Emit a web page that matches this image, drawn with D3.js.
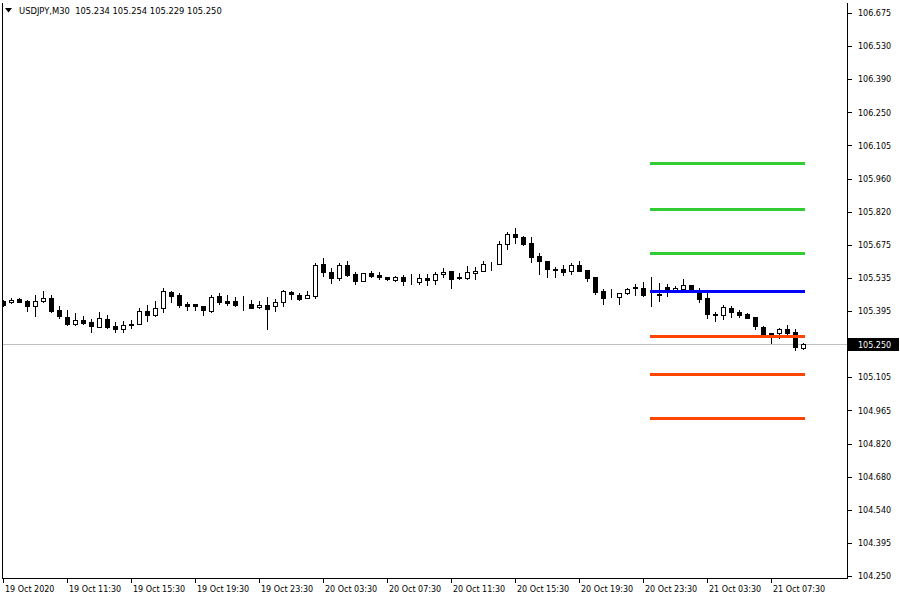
<!DOCTYPE html>
<html><head><meta charset="utf-8">
<script src="https://cdn.jsdelivr.net/npm/d3@7"></script>
<style>
body{margin:0;background:#fff}
svg{display:block}
text{font-family:"DejaVu Sans",sans-serif;font-size:8px;fill:#000}
</style></head><body>
<svg id="c" width="900" height="600"></svg>
<script>
const symbol = "USDJPY,M30";
const openP  = [105.434,105.431,105.443,105.434,105.412,105.433,105.447,105.396,105.367,105.337,
                105.353,105.343,105.324,105.357,105.327,105.315,105.337,105.337,105.391,105.375,
                105.403,105.474,105.459,105.420,105.420,105.412,105.390,105.455,105.434,105.433,
                105.421,105.420,105.409,105.417,105.412,105.429,105.473,105.462,105.446,105.457,
                105.593,105.558,105.532,105.588,105.549,105.520,105.554,105.546,105.537,105.525,
                105.538,105.524,105.518,105.535,105.525,105.549,105.564,105.538,105.535,105.554,
                105.562,105.593,105.593,105.679,105.722,105.709,105.683,105.627,105.606,105.574,
                105.574,105.564,105.588,105.568,105.539,105.477,105.453,105.450,105.469,105.496,
                105.492,105.466,105.465,105.493,105.483,105.485,105.502,105.477,105.447,105.377,
                105.373,105.403,105.387,105.378,105.364,105.324,105.298,105.295,105.312,105.300,
                105.234];
const highP  = [105.439,105.447,105.447,105.437,105.460,105.477,105.460,105.413,105.396,105.383,
                105.371,105.357,105.387,105.374,105.344,105.349,105.352,105.404,105.417,105.434,
                105.490,105.477,105.470,105.430,105.420,105.413,105.462,105.469,105.460,105.450,
                105.457,105.439,105.436,105.452,105.442,105.481,105.479,105.469,105.477,105.598,
                105.620,105.575,105.597,105.607,105.559,105.556,105.565,105.559,105.538,105.543,
                105.548,105.549,105.549,105.549,105.561,105.575,105.564,105.556,105.584,105.581,
                105.607,105.601,105.693,105.733,105.748,105.715,105.709,105.641,105.606,105.581,
                105.588,105.598,105.606,105.568,105.539,105.487,105.485,105.468,105.492,105.509,
                105.516,105.538,105.511,105.506,105.499,105.529,105.505,105.492,105.469,105.386,
                105.417,105.414,105.394,105.384,105.364,105.327,105.298,105.317,105.332,105.312,
                105.254];
const lowP   = [105.413,105.426,105.429,105.393,105.371,105.430,105.387,105.362,105.331,105.331,
                105.335,105.302,105.322,105.319,105.301,105.301,105.318,105.335,105.349,105.370,
                105.387,105.431,105.409,105.397,105.397,105.375,105.389,105.423,105.417,105.413,
                105.394,105.404,105.405,105.315,105.393,105.412,105.444,105.439,105.446,105.447,
                105.543,105.513,105.524,105.542,105.509,105.520,105.538,105.529,105.524,105.521,
                105.505,105.508,105.506,105.503,105.509,105.539,105.489,105.528,105.530,105.530,
                105.562,105.569,105.593,105.657,105.683,105.676,105.604,105.549,105.537,105.537,
                105.546,105.551,105.564,105.522,105.465,105.423,105.452,105.420,105.463,105.459,
                105.457,105.413,105.436,105.457,105.481,105.481,105.479,105.431,105.362,105.349,
                105.358,105.367,105.365,105.360,105.312,105.284,105.255,105.274,105.288,105.222,
                105.229];
const closeP = [105.417,105.440,105.430,105.413,105.433,105.449,105.391,105.370,105.335,105.353,
                105.341,105.328,105.361,105.322,105.314,105.331,105.331,105.391,105.374,105.406,
                105.477,105.457,105.417,105.414,105.414,105.394,105.452,105.429,105.426,105.417,
                105.420,105.406,105.417,105.401,105.429,105.476,105.463,105.444,105.460,105.588,
                105.558,105.532,105.588,105.546,105.519,105.556,105.543,105.537,105.528,105.538,
                105.521,105.523,105.532,105.524,105.551,105.559,105.528,105.532,105.558,105.564,
                105.593,105.593,105.679,105.722,105.709,105.681,105.625,105.606,105.571,105.568,
                105.561,105.588,105.565,105.532,105.474,105.449,105.452,105.468,105.486,105.489,
                105.462,105.465,105.459,105.479,105.490,105.502,105.483,105.444,105.377,105.373,
                105.407,105.386,105.375,105.362,105.325,105.291,105.291,105.312,105.298,105.235,
                105.250];
const xTickLabels = ["19 Oct 2020","19 Oct 11:30","19 Oct 15:30","19 Oct 19:30","19 Oct 23:30",
                     "20 Oct 03:30","20 Oct 07:30","20 Oct 11:30","20 Oct 15:30","20 Oct 19:30",
                     "20 Oct 23:30","21 Oct 03:30","21 Oct 07:30"];
const barsPerXTick = 8;
const yTickLabels = ["106.675","106.530","106.390","106.250","106.105","105.960","105.820","105.675","105.535",
                     "105.395","105.250","105.105","104.965","104.820","104.680","104.540","104.395","104.250"];
const priceMin = 104.250, priceMax = 106.675;
const greenLevels  = [106.029, 105.831, 105.641];
const blueLevels   = [105.478];
const orangeLevels = [105.284, 105.120, 104.931];
const levelFromBar = 80.9, levelToBar = 100.25;
const bidPrice = 105.250;

const svg = d3.select("#c");
const L = 3, R = 847, T = 3, B = 578;
const x = d3.scaleLinear().domain([0, 105.5]).range([L, R]);
const y = d3.scaleLinear().domain([priceMin, priceMax]).range([576, 13]);
const px = i => Math.round(x(i));

svg.append("defs").append("clipPath").attr("id","plot")
  .append("rect").attr("x",L).attr("y",T).attr("width",R-L).attr("height",B-T);

const g = svg.append("g").attr("clip-path","url(#plot)").attr("shape-rendering","crispEdges");

// bid line
g.append("line").attr("x1",L).attr("x2",R).attr("y1",Math.round(y(bidPrice))+0.5).attr("y2",Math.round(y(bidPrice))+0.5)
  .attr("stroke","#c0c0c0").attr("stroke-width",1);

const idx = d3.range(openP.length);
// wicks
g.selectAll("line.wick").data(idx).join("line").attr("class","wick")
  .attr("x1",i=>px(i)+0.5).attr("x2",i=>px(i)+0.5)
  .attr("y1",i=>Math.round(y(highP[i]))).attr("y2",i=>Math.round(y(lowP[i]))+1)
  .attr("stroke","#000");
// bodies
g.selectAll("rect.body").data(idx).join("rect").attr("class","body")
  .attr("x",i=>px(i)-1.5).attr("width",4)
  .attr("y",i=>Math.round(y(Math.max(openP[i],closeP[i])))+0.5)
  .attr("height",i=>Math.max(0,Math.round(y(Math.min(openP[i],closeP[i])))-Math.round(y(Math.max(openP[i],closeP[i])))))
  .attr("fill",i=>closeP[i]>=openP[i]?"#fff":"#000")
  .attr("stroke","#000");

// level lines
function levels(arr,color){
  g.selectAll(null).data(arr).join("line")
   .attr("x1",x(levelFromBar)).attr("x2",x(levelToBar))
   .attr("y1",d=>Math.round(y(d))+0.5).attr("y2",d=>Math.round(y(d))+0.5)
   .attr("stroke",color).attr("stroke-width",3);
}
levels(greenLevels,"#32cd32");
levels(blueLevels,"#0000ff");
levels(orangeLevels,"#ff4500");

// frame
const fr = svg.append("g").attr("shape-rendering","crispEdges");
fr.append("path").attr("d",`M${L-0.5},${T} V${B+0.5} H${R+0.5} V${T}`).attr("fill","none").attr("stroke","#000");

// x ticks
const xt = d3.range(xTickLabels.length).map(k=>k*barsPerXTick);
fr.selectAll("line.xt").data(xt).join("line").attr("class","xt")
  .attr("x1",i=>px(i)+0.5).attr("x2",i=>px(i)+0.5).attr("y1",B).attr("y2",B+5).attr("stroke","#000");
svg.selectAll("text.xl").data(xt).join("text").attr("class","xl")
  .attr("x",i=>px(i)+2).attr("y",592).text((d,k)=>xTickLabels[k]);

// y ticks
const yStep = (priceMax-priceMin)/(yTickLabels.length-1);
const yt = yTickLabels.map((t,k)=>priceMax-k*yStep);
fr.selectAll("line.yt").data(yt).join("line").attr("class","yt")
  .attr("x1",R).attr("x2",R+5).attr("y1",d=>Math.round(y(d))+0.5).attr("y2",d=>Math.round(y(d))+0.5).attr("stroke","#000");
svg.selectAll("text.yl").data(yt).join("text").attr("class","yl")
  .attr("x",858).attr("y",d=>y(d)+3.2).text((d,k)=>yTickLabels[k]);

// bid label
const by = Math.round(y(bidPrice));
svg.append("rect").attr("x",R+1).attr("y",by-6).attr("width",51).attr("height",13).attr("fill","#000");
svg.append("text").attr("x",858).attr("y",by+3.5).style("fill","#fff").text(d3.format(".3f")(bidPrice));

// header
const hdr = svg.append("g");
hdr.append("path").attr("d","M5,8 H12 L8.5,12.5 Z").attr("fill","#000");
hdr.append("text").attr("x",19).attr("y",14).style("font-size","8.4px")
  .text(`${symbol}  ${d3.format(".3f")(openP[100])} ${d3.format(".3f")(highP[100])} ${d3.format(".3f")(lowP[100])} ${d3.format(".3f")(closeP[100])}`)
  .attr("xml:space","preserve").style("white-space","pre");
</script></body></html>
